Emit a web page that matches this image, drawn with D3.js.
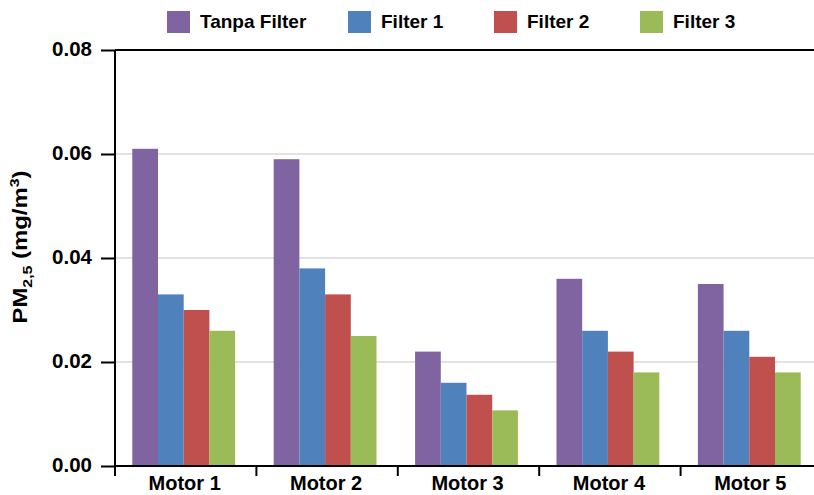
<!DOCTYPE html>
<html><head><meta charset="utf-8">
<script src="https://cdn.jsdelivr.net/npm/d3@7"></script>
<style>body{margin:0;background:#fff}svg{display:block;font-family:"Liberation Sans",Arial,sans-serif}</style>
</head><body><svg id="c" width="814" height="495"></svg>
<script>
const categories = ["Motor 1","Motor 2","Motor 3","Motor 4","Motor 5"];
const seriesNames = ["Tanpa Filter","Filter 1","Filter 2","Filter 3"];
const tanpaFilter = [0.061,0.059,0.022,0.036,0.035];
const filter1 = [0.033,0.038,0.016,0.026,0.026];
const filter2 = [0.030,0.033,0.0137,0.022,0.021];
const filter3 = [0.026,0.025,0.0107,0.018,0.018];
const yTicks = [0,0.02,0.04,0.06,0.08];
const colors = ["#8064A2","#4F81BD","#C0504D","#9BBB59"];

const series = [tanpaFilter,filter1,filter2,filter3];
const svg = d3.select("#c");
const m = {left:115, right:822, top:50, bottom:466};
const x = d3.scaleBand().domain(categories).range([m.left,m.right]).padding(0);
const y = d3.scaleLinear().domain([0,0.08]).range([m.bottom,m.top]);
const inner = d3.scaleBand().domain(seriesNames).range([0, x.bandwidth()]).paddingInner(0).paddingOuter(0.75);

// gridlines
svg.append("g").selectAll("line").data(yTicks.filter(t=>t>0 && t<0.08)).join("line")
  .attr("x1",m.left).attr("x2",m.right).attr("y1",d=>y(d)).attr("y2",d=>y(d))
  .attr("stroke","#d9d9d9").attr("stroke-width",1.5);

// bars
categories.forEach((c,i)=>{
  svg.append("g").selectAll("rect").data(series.map((s,j)=>({v:s[i],j}))).join("rect")
    .attr("x",d=>x(c)+inner(seriesNames[d.j])-2)
    .attr("width",inner.bandwidth())
    .attr("y",d=>y(d.v)).attr("height",d=>y(0)-y(d.v))
    .attr("fill",d=>colors[d.j]);
});

// top line
svg.append("line").attr("x1",m.left).attr("x2",m.right).attr("y1",y(0.08)).attr("y2",y(0.08))
  .attr("stroke","#000").attr("stroke-width",2);

// y axis
const ya = svg.append("g").attr("transform",`translate(${m.left},0)`)
  .call(d3.axisLeft(y).tickValues(yTicks).tickFormat("").tickSize(14));
ya.select(".domain").attr("stroke","#000").attr("stroke-width",2).attr("d",`M0,${m.top}V${m.bottom+10}`);
ya.selectAll(".tick line").attr("stroke","#000").attr("stroke-width",2);
const fmt = d3.format(".2f");
svg.append("g").selectAll("text").data(yTicks).join("text")
  .attr("x",92).attr("y",d=>y(d)-1)
  .attr("dy","0.36em").attr("text-anchor","end")
  .attr("font-size",20.5).attr("font-weight","bold").attr("fill","#000")
  .text(d=>fmt(d));

// x axis
const xa = svg.append("g").attr("transform",`translate(0,${m.bottom})`)
  .call(d3.axisBottom(x).tickSize(0).tickFormat(""));
xa.select(".domain").attr("stroke","#000").attr("stroke-width",2).attr("d",`M${m.left},0H${m.right}`);
xa.append("g").selectAll("line").data(categories).join("line")
  .attr("x1",d=>x(d)).attr("x2",d=>x(d)).attr("y1",0).attr("y2",10)
  .attr("stroke","#000").attr("stroke-width",2);
svg.append("g").selectAll("text").data(categories).join("text")
  .attr("x",d=>x(d)+x.bandwidth()/2-1).attr("y",490)
  .attr("text-anchor","middle")
  .attr("font-size",20).attr("font-weight","bold").attr("fill","#000")
  .text(d=>d);

// y title
const yt = svg.append("text").attr("transform","translate(27,247) rotate(-90)")
  .attr("text-anchor","middle").attr("font-size",19.5).attr("font-weight","bold").attr("fill","#000");
yt.append("tspan").text("PM");
yt.append("tspan").text("2,5").attr("font-size",13).attr("dy",5);
yt.append("tspan").text(" (mg/m").attr("dy",-5);
yt.append("tspan").text("3").attr("font-size",13).attr("dy",-8);
yt.append("tspan").text(")").attr("dy",8);
const len = yt.node().getComputedTextLength();
yt.attr("transform",`translate(27,247) rotate(-90) scale(${153/len},1)`);

// legend
const legX = [167,348,494,640];
const lg = svg.append("g").selectAll("g").data(seriesNames).join("g")
  .attr("transform",(d,i)=>`translate(${legX[i]},11)`);
lg.append("rect").attr("width",23).attr("height",22).attr("fill",(d,i)=>colors[i]);
lg.append("text").attr("x",33).attr("y",17).text(d=>d)
  .attr("font-size",19).attr("font-weight","bold").attr("fill","#000");
</script></body></html>
